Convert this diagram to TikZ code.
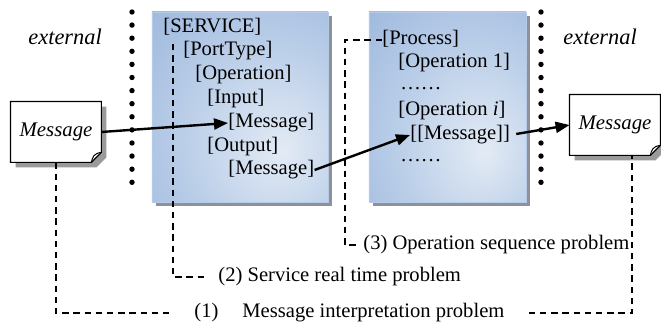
\documentclass[tikz,border=0pt]{standalone}
\usepackage{fontspec}
\setmainfont{Liberation Serif}
\usepackage{tikz}
\usetikzlibrary{arrows.meta,shadows,backgrounds}
\definecolor{glowdark}{HTML}{89A8D4}
\definecolor{glowmid}{HTML}{B6CBE7}
\definecolor{glowlight}{HTML}{E3EBF5}
\definecolor{boxshade}{HTML}{8C919A}
\definecolor{sheetshade}{HTML}{9A9A9A}
\pgfdeclareradialshading{boxglow}{\pgfpoint{12bp}{-12bp}}{color(0bp)=(glowlight); color(28bp)=(glowmid); color(62bp)=(glowdark); color(100bp)=(glowdark)}
\newcommand{\sheet}[2]{([shift={#2}]#1.north west) -- ([shift={#2}]#1.north east) -- ([shift={#2},yshift=5pt]#1.south east) -- ([shift={#2},xshift=-5pt]#1.south east) -- ([shift={#2}]#1.south west) -- cycle}
\newcommand{\sheetfold}[1]{([yshift=5pt]#1.south east) .. controls ([xshift=-4pt,yshift=4.5pt]#1.south east) and ([xshift=-4.5pt,yshift=2.5pt]#1.south east) .. ([xshift=-5pt]#1.south east)}

\begin{document}
\begin{tikzpicture}[x=0.5pt,y=-0.5pt,
  panel/.style={shading=boxglow, draw=glowmid, line width=0.4pt,
    drop shadow={shadow xshift=2pt, shadow yshift=-2pt, fill=boxshade, opacity=1}},
  entry/.style={anchor=west, inner sep=0pt, text height=7.5pt, text depth=2.5pt,
    font=\fontsize{10.3pt}{12pt}\selectfont},
  side/.style={entry, font=\fontsize{11.2pt}{13pt}\selectfont\itshape},
  sheettext/.style={minimum width=45pt, minimum height=30pt, inner sep=0pt,
    font=\fontsize{10.4pt}{12pt}\selectfont\itshape},
  problem/.style={entry, inner ysep=0pt},
  flow/.style={-{Triangle[length=7pt,width=5.5pt]}, line width=1.2pt},
  trace/.style={dash pattern=on 3.2pt off 2.4pt, line width=0.8pt}
]
\useasboundingbox (0,0) rectangle (661,325);
\node[panel, minimum width=88pt, minimum height=95pt] (service) at (240,107) {};
\node[panel, minimum width=78.5pt, minimum height=95pt] (process) at (447.5,107) {};
\foreach \k in {0,...,13} {
  \fill (132,12+13.1*\k) circle (1.35pt);
  \fill (541,12+13.1*\k) circle (1.35pt);
}
\node[side] (extL) at (28,40) {external};
\node[side] (extR) at (563,40) {external};
\node[sheettext] (msgL) at (56,132) {Message};
\node[sheettext] (msgR) at (615,125) {Message};
\begin{scope}[on background layer]
\fill[sheetshade] \sheet{msgL}{(2.5pt,-2.5pt)};
\fill[sheetshade] \sheet{msgR}{(2.5pt,-2.5pt)};
\filldraw[fill=white, line width=0.6pt] \sheet{msgL}{(0pt,0pt)};
\filldraw[fill=white, line width=0.6pt] \sheet{msgR}{(0pt,0pt)};
\end{scope}
\draw[line width=0.5pt] \sheetfold{msgL};
\draw[line width=0.5pt] \sheetfold{msgR};
\node[entry] (svc) at (163,28) {[SERVICE]};
\node[entry] (port) at (183,51) {[PortType]};
\node[entry] (oper) at (195,75) {[Operation]};
\node[entry] (inp) at (207,99) {[Input]};
\node[entry] (inmsg) at (228,123) {[Message]};
\node[entry] (outp) at (207,147) {[Output]};
\node[entry] (outmsg) at (228,170) {[Message]};
\node[entry] (proc) at (382,40) {[Process]};
\node[entry] (opone) at (398,63) {[Operation 1]};
\node[entry] (gapone) at (400,85) {……};
\node[entry] (opi) at (398,111) {[Operation \textit{i}]};
\node[entry] (procmsg) at (410,135) {[[Message]]};
\node[entry] (gaptwo) at (400,157) {……};
\node[problem, inner xsep=3pt] (seqprob) at (357,245) {(3) Operation sequence problem};
\node[problem, inner xsep=6.5pt] (timeprob) at (205,277) {(2) Service real time problem};
\node[problem, inner xsep=12pt] (msgprob) at (170,313) {(1)\hspace{12pt}Message interpretation problem};
\coordinate (svcdrop) at (173,44);
\draw[flow] (msgL.east) -- (inmsg.west);
\draw[flow] (outmsg.east) -- (procmsg.west);
\draw[flow, shorten <=3pt] (procmsg.east) -- (msgR.west);
\draw[trace] (svcdrop) |- (timeprob.west);
\draw[trace] (proc.west) -| ([xshift=-6pt]seqprob.west) -- (seqprob.west);
\draw[trace] (msgL.south) |- (msgprob.west);
\draw[trace] (msgprob.east) -| ([xshift=8.5pt]msgR.south);
\end{tikzpicture}
\end{document}
